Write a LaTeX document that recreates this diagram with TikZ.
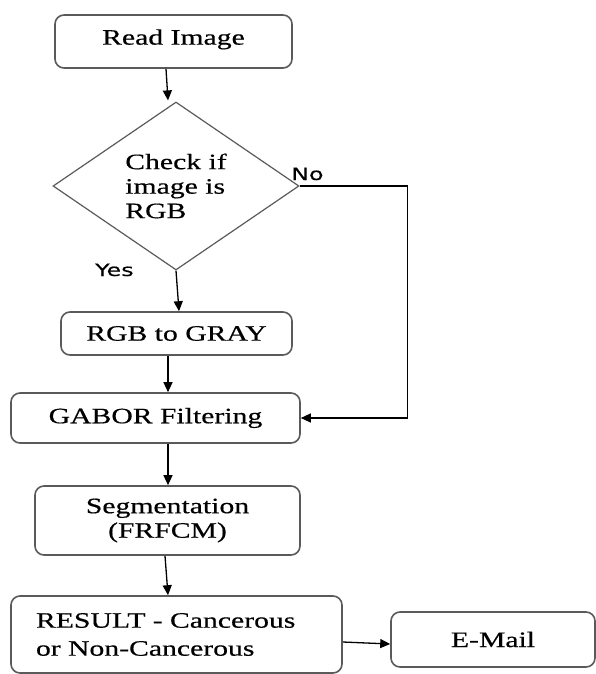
\documentclass[tikz,border=0pt]{standalone}
\usepackage{fontspec}
\setmainfont{Liberation Serif}[FakeStretch=1.35,FakeBold=0.5]
\newfontfamily\lblfont{DejaVu Sans}[FakeStretch=1.4,FakeBold=0.4]
\usetikzlibrary{shapes.geometric,arrows.meta,calc}
\definecolor{boxgray}{RGB}{90,90,90}
\begin{document}
\begin{tikzpicture}[x=1pt,y=-1pt,
  box/.style={draw=boxgray,line width=1.6pt,rounded corners=9pt,inner sep=0pt,
    font=\fontsize{22}{24.5}\selectfont,align=center},
  decision/.style={diamond,draw=boxgray,line width=1.2pt,inner sep=0pt,
    font=\fontsize{22}{24.5}\selectfont,align=left},
  lbl/.style={inner sep=0pt,font=\lblfont\fontsize{17}{20}\selectfont},
  flow/.style={draw=black,line width=1.3pt,-{Triangle[length=10pt,width=9pt]}}]
\useasboundingbox (0,0) rectangle (596,674);

\node[box,minimum width=237pt,minimum height=53pt,text depth=9pt] (read) at (173.5,41.5) {Read Image};
\node[decision,minimum width=246pt,minimum height=168pt] (dec) at (176,186) {Check if\\image is\\RGB};
\node[box,minimum width=231pt,minimum height=43pt] (rgb) at (176.5,333.5) {RGB to GRAY};
\node[box,minimum width=289pt,minimum height=50pt] (gabor) at (155.5,418) {GABOR Filtering};
\node[box,minimum width=265pt,minimum height=69pt] (seg) at (167.5,520.5) {Segmentation\\(FRFCM)};
\node[box,minimum width=331pt,minimum height=77pt,text width=281pt,inner xsep=25pt,
  align=left,font=\fontsize{22}{28}\selectfont] (result) at (176.5,634.5)
  {RESULT - Cancerous\\or Non-Cancerous};
\node[box,minimum width=204pt,minimum height=55pt] (email) at (493,639.5) {E-Mail};

\node[lbl,anchor=base west] (no) at (291,180) {No};
\node[lbl,anchor=base west] (yes) at (95,276) {Yes};

\draw[flow] ($(read.south)+(-7.5,0)$) -- ($(dec.north)+(-8,-1)$);
\draw[flow] (dec.south) -- ($(rgb.north)+(2.5,0)$);
\draw[flow] ($(rgb.south)+(-8.5,0)$) -- ($(gabor.north)+(12.5,0)$);
\draw[flow] ($(gabor.south)+(12.5,0)$) -- ($(seg.north)+(0.5,0)$);
\draw[flow] ($(seg.south)+(-2.5,0)$) -- ($(result.north)+(-8.5,0)$);
\draw[flow] (dec.east) -- ++(108,0) |- (gabor.east);
\draw[flow] ($(result.east)+(0,7.5)$) -- ($(email.west)+(0,4.5)$);
\end{tikzpicture}
\end{document}
